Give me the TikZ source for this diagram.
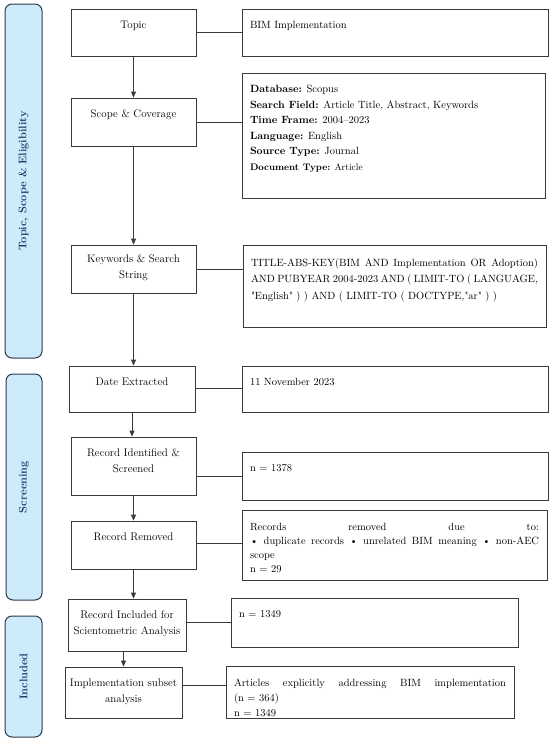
\documentclass[tikz,border=0pt]{standalone}
\usepackage{fontspec}
\usetikzlibrary{arrows.meta}
\definecolor{linec}{HTML}{3A3A3A}
\definecolor{phasefill}{HTML}{CDEBFA}
\definecolor{phaseline}{HTML}{2E3B48}
\definecolor{phasetext}{HTML}{1F3864}
% left (centred) box text: [top space]{width}{height}{content}
\newcommand{\ltext}[4][9pt]{\parbox[c][#3][t]{#2}{\centering\vspace*{#1}\strut#4\par}}
% right (justified) box text
\newcommand{\rtext}[4][9pt]{\parbox[c][#3][t]{#2}{\parindent=0pt\leftskip=8pt\rightskip=8pt\vspace*{#1}\strut#4\par}}
\newcommand{\fullline}[1]{\makebox[\dimexpr\linewidth-16pt\relax][s]{#1}}
\begin{document}
\begin{tikzpicture}[x=1pt,y=-1pt,
  box/.style={draw=linec, line width=0.8pt, inner sep=0pt, fill=white,
    font=\fontsize{11}{15.5}\selectfont},
  rbox/.style={box, font=\fontsize{10.5}{15.5}\selectfont},
  phase/.style={draw=phaseline, fill=phasefill, line width=1pt, rounded corners=7pt,
    inner sep=0pt, rotate=90, text=phasetext, font=\fontsize{11}{13}\selectfont\bfseries},
  link/.style={draw=linec, line width=0.8pt},
  arr/.style={link, -{Triangle[length=6pt,width=5pt]}}]
\useasboundingbox (0,0) rectangle (550,742);
% phase bars
\node[phase, minimum width=354pt, minimum height=37pt] (ph1) at (23.5,181) {Topic, Scope \& Eligibility};
\node[phase, minimum width=226pt, minimum height=36pt] (ph2) at (24,487) {Screening};
\node[phase, minimum width=121pt, minimum height=37pt] (ph3) at (23.5,676.5) {Included};
% left column
\node[box] (topic) at (133.5,32.5) {\ltext{125pt}{47pt}{Topic}};
\node[box] (scope) at (133.5,122) {\ltext{125pt}{48pt}{Scope \& Coverage}};
\node[box] (kw) at (133.5,269) {\ltext[7pt]{125pt}{48pt}{Keywords \& Search\\ String}};
\node[box] (date) at (132,389) {\ltext{126pt}{46pt}{Date Extracted}};
\node[box] (ident) at (133.5,466) {\ltext{125pt}{58pt}{Record Identified \&\\ Screened}};
\node[box] (removed) at (133.5,545) {\ltext{125pt}{48pt}{Record Removed}};
\node[box] (incl) at (127,625) {\ltext{118pt}{52pt}{Record Included for\\ Scientometric Analysis}};
\node[box] (impl) at (123.5,692.5) {\ltext{117pt}{51pt}{Implementation subset\\ analysis}};
% right column
\node[rbox] (bim) at (395,32.5) {\rtext{306pt}{47pt}{BIM Implementation}};
\node[rbox] (scopeinfo) at (393.5,135.5) {\rtext{303pt}{125pt}{%
  \textbf{Database:} Scopus\\
  \textbf{Search Field:} Article Title, Abstract, Keywords\\
  \textbf{Time Frame:} 2004--2023\\
  \textbf{Language:} English\\
  \textbf{Source Type:} Journal\\
  {\fontsize{9.5}{15.5}\selectfont\textbf{Document Type:} Article}}};
\node[rbox, font=\fontsize{10.5}{16.5}\selectfont] (kwinfo) at (394.5,286) {\rtext[9.5pt]{303pt}{82pt}{%
  \fullline{TITLE-ABS-KEY(BIM AND Implementation OR Adoption)}\\
  \fullline{AND PUBYEAR 2004-2023 AND ( LIMIT-TO ( LANGUAGE,}\\
  \textquotedbl English\textquotedbl\ ) ) AND ( LIMIT-TO ( DOCTYPE,\textquotedbl ar\textquotedbl\ ) )}};
\node[rbox] (dateinfo) at (395,389) {\rtext{306pt}{46pt}{11 November 2023}};
\node[rbox] (identinfo) at (395,476) {\rtext{306pt}{48pt}{n = 1378}};
\node[rbox, font=\fontsize{10.5}{13.7}\selectfont] (removedinfo) at (394.5,545) {\rtext[11.4pt]{305pt}{70pt}{%
  Records\hfill removed\hfill due\hfill to:\\
  \fullline{\textbullet\ duplicate records \textbullet\ unrelated BIM meaning \textbullet\ non-AEC}\\
  scope\\
  n = 29}};
\node[rbox] (inclinfo) at (374.5,622.5) {\rtext{287pt}{49pt}{n = 1349}};
\node[rbox, font=\fontsize{10.5}{15}\selectfont] (implinfo) at (370,692) {\rtext[10pt]{288pt}{52pt}{%
  Articles\hfill explicitly\hfill addressing\hfill BIM\hfill implementation\\
  (n = 364)\\
  n = 1349}};
% horizontal links
\draw[link] (topic.east) -- (topic.east -| bim.west);
\draw[link] (scope.east) -- (scope.east -| scopeinfo.west);
\draw[link] (kw.east) -- (kw.east -| kwinfo.west);
\draw[link] ([yshift=1pt]date.east) -- ([yshift=1pt]date.east -| dateinfo.west);
\draw[link] (ident.east |- identinfo.west) -- (identinfo.west);
\draw[link] ([yshift=2pt]removed.east) -- ([yshift=2pt]removed.east -| removedinfo.west);
\draw[link] (incl.east |- inclinfo.west) -- (inclinfo.west);
\draw[link] ([yshift=7.5pt]impl.east) -- ([yshift=7.5pt]impl.east -| implinfo.west);
% vertical arrows
\draw[arr] (topic.south) -- (scope.north);
\draw[arr] (scope.south) -- (kw.north);
\draw[arr] (kw.south) -- (kw.south |- date.north);
\draw[arr] (date.south) -- (date.south |- ident.north);
\draw[arr] (ident.south) -- (removed.north);
\draw[arr] (removed.south) -- (removed.south |- incl.north);
\draw[arr] (impl.north |- incl.south) -- (impl.north);
\end{tikzpicture}
\end{document}
